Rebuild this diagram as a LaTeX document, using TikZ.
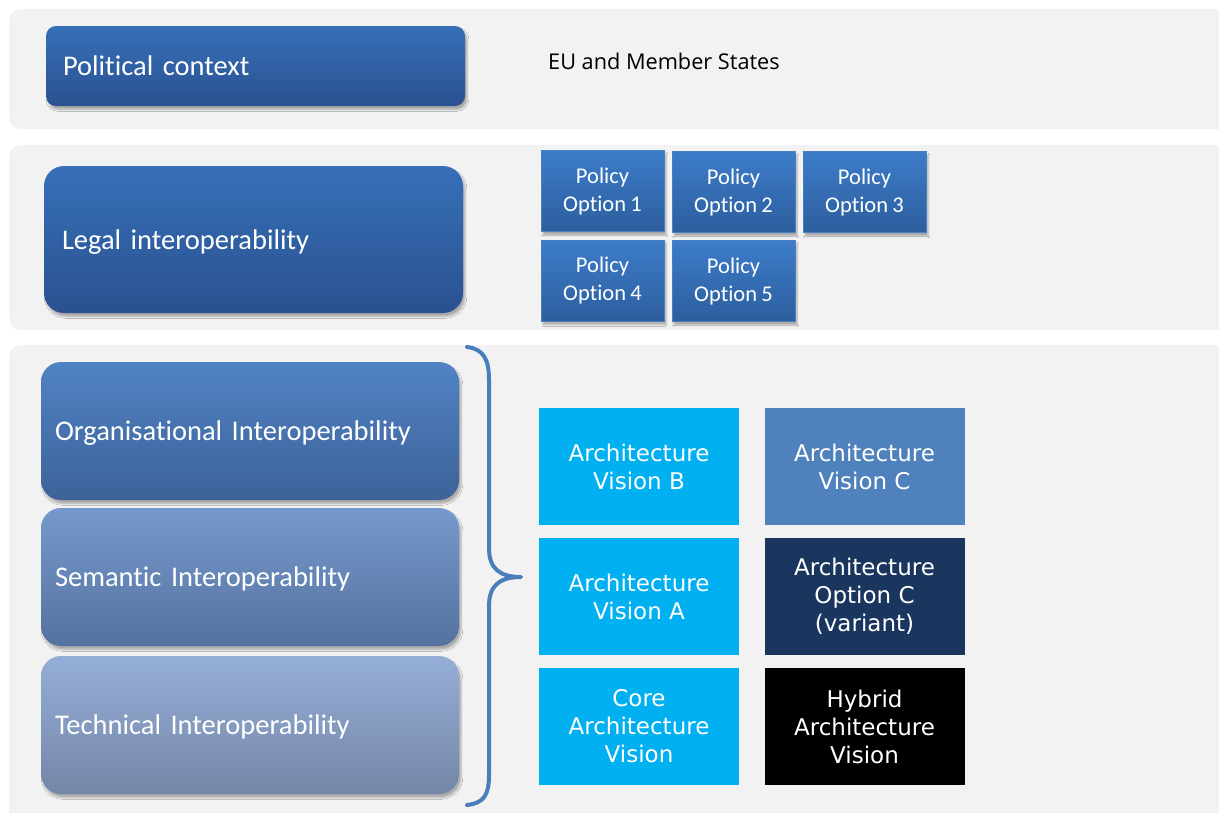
\documentclass[tikz,border=0pt]{standalone}
\usepackage{fontspec}
\setmainfont{Carlito}[Ligatures={NoCommon}, WordSpace=0.85]
\newfontfamily\verdfont{DejaVu Sans}
\newfontfamily\segfont{Open Sans}
\usetikzlibrary{shadows.blur}
\definecolor{panelgray}{HTML}{F2F2F2}
\definecolor{polTop}{HTML}{3670B8}
\definecolor{polBot}{HTML}{2A5190}
\definecolor{optTop}{HTML}{3D7CC9}
\definecolor{optBot}{HTML}{2C5E9E}
\definecolor{optEdge}{HTML}{4A7FC0}
\definecolor{orgTop}{HTML}{5083C5}
\definecolor{orgBot}{HTML}{3D6298}
\definecolor{semTop}{HTML}{7699CD}
\definecolor{semBot}{HTML}{55729F}
\definecolor{tecTop}{HTML}{95AED7}
\definecolor{tecBot}{HTML}{7486A7}
\definecolor{braceblue}{HTML}{4A7EBB}
\definecolor{archlight}{HTML}{00B0F0}
\definecolor{archmid}{HTML}{4F81BD}
\definecolor{archnavy}{HTML}{1A365E}
\tikzset{
  panelbox/.style={fill=panelgray, draw=none, rounded corners=12pt},
  softshadow/.style={blur shadow={shadow xshift=2pt, shadow yshift=-3.5pt, shadow blur steps=5, shadow blur radius=1.8pt, shadow opacity=30}},
  layerbox/.style={draw=none, rounded corners=#1, text=white, align=left, inner ysep=0pt,
    text height=23pt, text depth=4pt,
    font=\fontsize{28.5}{34}\selectfont, softshadow},
  optbox/.style={draw=optEdge, line width=0.8pt, top color=optTop, bottom color=optBot, text=white,
    align=center, minimum width=123pt, minimum height=81pt, inner sep=0pt,
    font=\fontsize{22.5}{28}\selectfont, softshadow},
  archbox/.style={draw=none, fill=#1, text=white, align=center, minimum width=200pt, minimum height=117pt,
    inner sep=0pt, font=\verdfont\fontsize{23}{28}\selectfont},
}
\begin{document}
\begin{tikzpicture}[x=1pt,y=-1pt]
\useasboundingbox (0,0) rectangle (1219,812);
\clip (0,0) rectangle (1219,812);
\fill[white] (0,0) rectangle (1219,812);
% panels
\path[panelbox] (9,9) rectangle (1235,129);
\path[panelbox] (9,145) rectangle (1235,330);
\path[panelbox] (9,345) rectangle (1235,830);
% political
\node[layerbox=10pt, top color=polTop, bottom color=polBot, text width=385pt, inner xsep=17pt,
  minimum height=80pt] (political) at (255.5,66) {Political context};
\node[anchor=west, font=\segfont\fontsize{21.7}{25}\selectfont, text=black, inner sep=0pt] (eu) at (548,61) {EU and Member States};
% legal
\node[layerbox=20pt, top color=polTop, bottom color=polBot, text width=383pt, inner xsep=18pt,
  minimum height=147pt] (legal) at (253.5,239.5) {Legal interoperability};
% policy options
\node[optbox] (p1) at (602.5,191) {Policy\\Option 1};
\node[optbox] (p2) at (733.5,192) {Policy\\Option 2};
\node[optbox] (p3) at (864.5,192) {Policy\\Option 3};
\node[optbox] (p4) at (602.5,280.5) {Policy\\Option 4};
\node[optbox] (p5) at (733.5,281) {Policy\\Option 5};
% interoperability layers
\node[layerbox=20pt, top color=orgTop, bottom color=orgBot, text width=390pt, inner xsep=14pt,
  minimum height=138pt] (org) at (250,431) {Organisational Interoperability};
\node[layerbox=20pt, top color=semTop, bottom color=semBot, text width=390pt, inner xsep=14pt,
  minimum height=138pt] (sem) at (250,577) {Semantic Interoperability};
\node[layerbox=20pt, top color=tecTop, bottom color=tecBot, text width=390pt, inner xsep=14pt,
  minimum height=138pt] (tec) at (250,725) {Technical Interoperability};
% brace
\draw[braceblue, line width=4pt, line cap=round, line join=round]
  (467,347) .. controls (484,349) and (489,360) .. (489,380) -- (489,548)
  .. controls (489,568) and (499,577) .. (521,577)
  .. controls (499,577) and (489,586) .. (489,606) -- (489,775)
  .. controls (489,795) and (484,803) .. (467,805);
% architecture boxes
\node[archbox=archlight] (avb) at (639,466.5) {Architecture\\Vision B};
\node[archbox=archmid] (avc) at (864.5,466.5) {Architecture\\Vision C};
\node[archbox=archlight] (ava) at (639,596.5) {Architecture\\Vision A};
\node[archbox=archnavy] (aoc) at (864.5,596.5) {Architecture\\Option C\\(variant)};
\node[archbox=archlight] (cav) at (639,726.5) {Core\\Architecture\\Vision};
\node[archbox=black] (hav) at (864.5,726.5) {Hybrid\\Architecture\\Vision};
\end{tikzpicture}
\end{document}
